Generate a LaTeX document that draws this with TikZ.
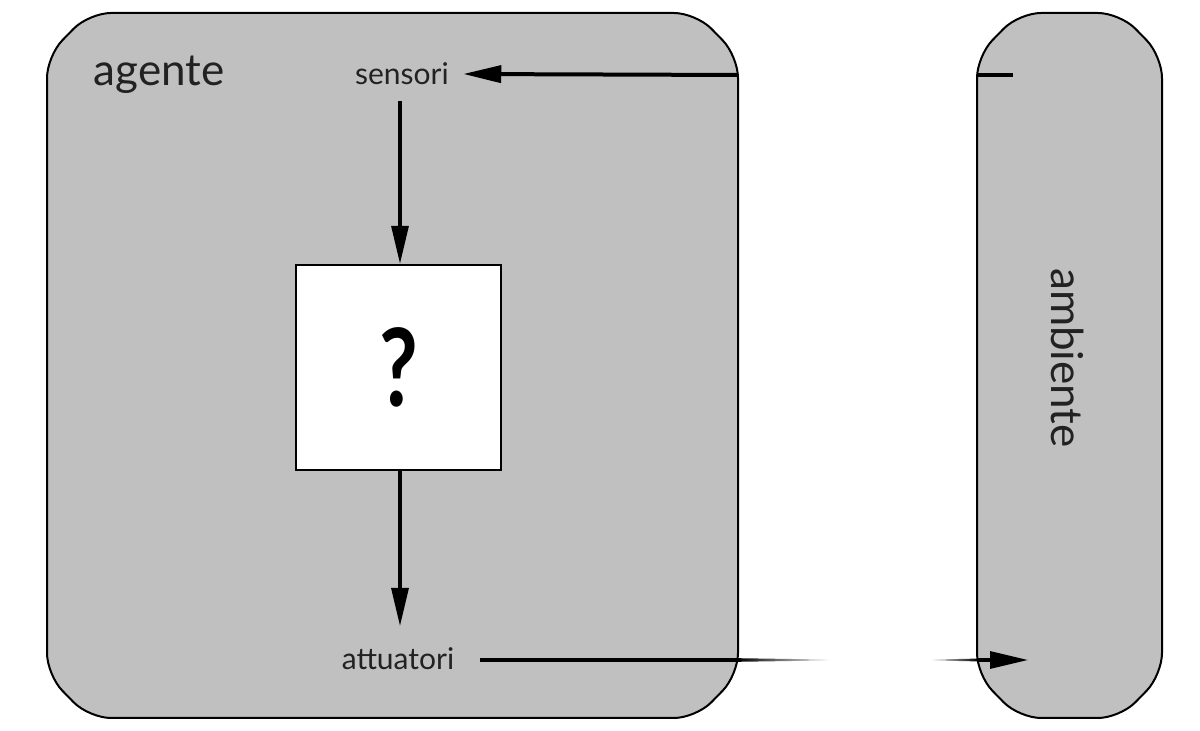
\documentclass[tikz,border=0pt]{standalone}
\usepackage{fontspec}
\setmainfont{Lato}
\usetikzlibrary{arrows.meta}

\definecolor{grigio}{RGB}{192,192,192}
\definecolor{testo}{RGB}{34,34,34}

\tikzset{
  contenitore/.style={draw=black, fill=grigio, line width=1pt, rounded corners=11pt},
  etichetta/.style={text=testo, font=\fontsize{15}{18}\selectfont, inner sep=2pt},
  freccia/.style={line width=1.6pt, -{Triangle[length=19pt,width=8.5pt]}},
  segmento/.style={line width=2pt}
}

\begin{document}
\begin{tikzpicture}[x=0.5pt, y=-0.5pt]
  \useasboundingbox (0,0) rectangle (1200,731);

  % contenitori
  \draw[contenitore] (47,56) -- (89,13) -- (696,13) -- (738,56) -- (738,675)
    -- (696,718) -- (89,718) -- (47,675) -- cycle;
  \draw[contenitore] (977,56) -- (1019,13) -- (1120,13) -- (1162,56) -- (1162,675)
    -- (1120,718) -- (1019,718) -- (977,675) -- cycle;

  % testi
  \node[text=testo, font=\fontsize{22}{26}\selectfont] (agente) at (159,75) {agente};
  \node[text=testo, font=\fontsize{22}{26}\selectfont, rotate=-90] (ambiente) at (1068,358) {ambiente};
  \node[etichetta] (sensori) at (402,74) {sensori};
  \node[etichetta] (attuatori) at (398,659) {attuatori};
  \node[draw, fill=white, line width=1.2pt, minimum size=102.5pt,
        font=\fontsize{54}{54}\bfseries] (scatola) at (398.5,367.5) {\scalebox{0.78}[1]{?}};

  % punti di bordo
  \coordinate (agDx) at (738,75);
  \coordinate (amSx) at (977,75);
  \coordinate (amIn) at (1013,75);
  \coordinate (attDx) at (480,660);
  \coordinate (agBs) at (738,660);
  \coordinate (amBs) at (977,660);
  \coordinate (amFn) at (1028,660);

  % connessioni
  \draw[freccia, line width=2pt] (agDx) -- ([xshift=5pt]sensori.east);
  \draw[segmento] (amSx) -- (amIn);
  \draw[freccia] (400,101) -- (scatola.north -| 400,0);
  \draw[freccia] (scatola.south -| 400,0) -- (400,626);
  \draw[segmento, line width=1.6pt] (attDx) -- (agBs);
  \shade[left color=black, right color=white] (738,658.2) -- (832,659.6) -- (832,660.4) -- (738,661.8) -- cycle;
  \shade[left color=white, right color=black] (930,659.6) -- (977,658.6) -- (977,661.4) -- (930,660.4) -- cycle;
  \draw[freccia] (amBs) -- (amFn);
\end{tikzpicture}
\end{document}
